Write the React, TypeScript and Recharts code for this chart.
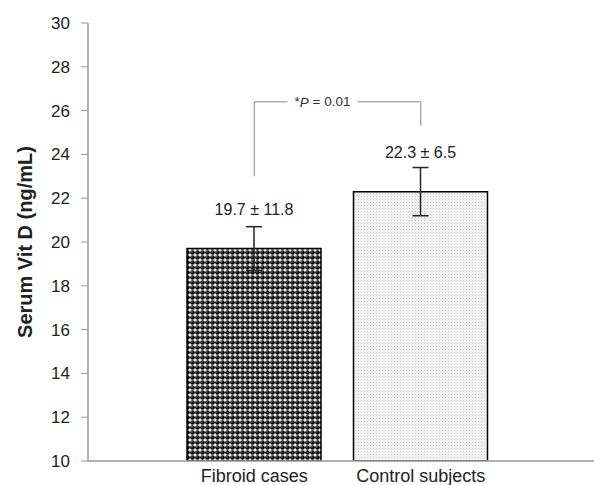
import React from 'react';
import { BarChart, Bar, XAxis, YAxis, ErrorBar, LabelList, ReferenceLine, Cell } from 'recharts';

const CATEGORIES = ['Fibroid cases', 'Control subjects'];
const MEANS = [19.7, 22.3];
const ERRORS = [1.0, 1.1];
const BAR_LABELS = ['19.7 \u00b1 11.8', '22.3 \u00b1 6.5'];
const Y_TICKS = [10, 12, 14, 16, 18, 20, 22, 24, 26, 28, 30];
// significance bracket: top, left leg bottom, right leg bottom
const BRACKET = { top: 26.4, leftEnd: 23.0, rightEnd: 25.3 };

const data = CATEGORIES.map((name, i) => ({
  name,
  value: MEANS[i],
  err: ERRORS[i],
  label: BAR_LABELS[i],
}));

const FONT = 'Arial, "Liberation Sans", Helvetica, sans-serif';
const FILLS = ['url(#fibroidPattern)', 'url(#controlPattern)'];

const YLabel = () => {
  const cx = 25;
  const cy = 242;
  return (
    <text
      x={cx}
      y={cy}
      transform={`rotate(-90, ${cx}, ${cy})`}
      textAnchor="middle"
      dominantBaseline="central"
      fontFamily={FONT}
      fontSize={20}
      fontWeight="bold"
      fill="#222"
    >
      Serum Vit D (ng/mL)
    </text>
  );
};

const PLabel = (props: any) => {
  const { x, y, width } = props.viewBox || {};
  const cx = x + width * 0.41;
  return (
    <g>
      <rect x={cx - 35} y={y - 8} width={70} height={16} fill="#fff" />
      <text x={cx} y={y} textAnchor="middle" dominantBaseline="central" fontFamily={FONT} fontSize={13.5} fill="#333">
        *<tspan fontStyle="italic">P</tspan> = 0.01
      </text>
    </g>
  );
};

export default function App() {
  return (
    <div style={{ position: 'absolute', left: 0, top: 0, width: 594, height: 485, background: '#fff' }}>
      <BarChart width={594} height={485} data={data} margin={{ top: 23, right: 0, bottom: 0, left: 0 }}>
        <defs>
          <pattern id="fibroidPattern" width="5" height="5" patternUnits="userSpaceOnUse">
            <rect width="5" height="5" fill="#fff" />
            <circle cx="2.5" cy="2.5" r="2.35" fill="#000" />
            <circle cx="1.9" cy="1.9" r="0.7" fill="#aaa" />
          </pattern>
          <pattern id="controlPattern" width="3" height="3" patternUnits="userSpaceOnUse">
            <rect width="3" height="3" fill="#f1f1f1" />
            <rect x="1" y="1" width="1" height="1" fill="#cfcfcf" />
          </pattern>
        </defs>
        <XAxis
          dataKey="name"
          axisLine={{ stroke: '#999', strokeWidth: 1.5 }}
          tickLine={false}
          height={24}
          padding={{ left: 83, right: 90 }}
          tick={{ fill: '#222', fontSize: 18, fontFamily: FONT }}
        />
        <YAxis
          domain={[10, 30]}
          ticks={Y_TICKS}
          width={88}
          allowDataOverflow
          axisLine={{ stroke: '#999', strokeWidth: 1.5 }}
          tickLine={{ stroke: '#999' }}
          tickSize={7}
          tickMargin={11}
          tick={{ fill: '#222', fontSize: 17, fontFamily: FONT }}
          label={<YLabel />}
        />
        <Bar dataKey="value" barSize={134} stroke="#000" strokeWidth={1.5} isAnimationActive={false}>
          {data.map((d, i) => (
            <Cell key={d.name} fill={FILLS[i]} />
          ))}
          <ErrorBar dataKey="err" direction="y" width={8} stroke="#222" strokeWidth={1.5} />
          <LabelList dataKey="label" position="top" offset={34} fill="#222" fontSize={16} fontFamily={FONT} />
        </Bar>
        <ReferenceLine
          segment={[{ x: CATEGORIES[0], y: BRACKET.leftEnd }, { x: CATEGORIES[0], y: BRACKET.top }]}
          stroke="#888"
          strokeWidth={1}
        />
        <ReferenceLine
          segment={[{ x: CATEGORIES[1], y: BRACKET.rightEnd }, { x: CATEGORIES[1], y: BRACKET.top }]}
          stroke="#888"
          strokeWidth={1}
        />
        <ReferenceLine
          segment={[{ x: CATEGORIES[0], y: BRACKET.top }, { x: CATEGORIES[1], y: BRACKET.top }]}
          stroke="#888"
          strokeWidth={1}
          label={<PLabel />}
        />
      </BarChart>
    </div>
  );
}
